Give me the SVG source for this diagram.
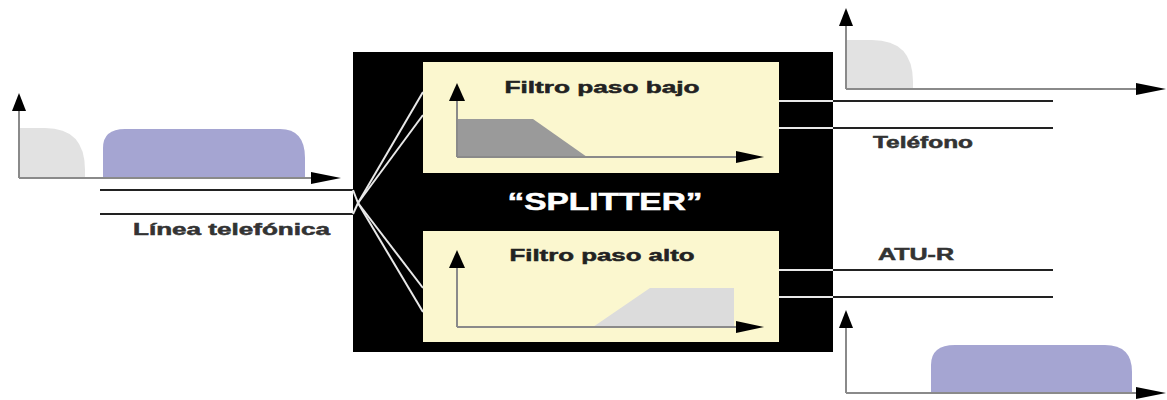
<svg xmlns="http://www.w3.org/2000/svg" width="1167" height="400" viewBox="0 0 1167 400">
<style>
.lbl{font-family:"Liberation Sans",Arial,sans-serif;font-weight:bold;fill:#333;stroke:#333;stroke-width:0.5}
.ttl{font-family:"Liberation Sans",Arial,sans-serif;font-weight:bold;fill:#222;stroke:#222;stroke-width:0.5}
.ax{stroke:#8a8a8a;stroke-width:2;fill:none}
.wire{stroke:#222;stroke-width:2}
.wwire{stroke:#e8e8e8;stroke-width:2}
.ah{fill:#000}
.panel{fill:#fbf7cf}
.purple{fill:#a5a5d2}
.lgray{fill:#e2e2e2}
</style>
<rect width="1167" height="400" fill="#fff"/>

<g id="splitter">
<rect x="353" y="52" width="480" height="300" fill="#000"/>
<text class="ttl" x="605" y="210" text-anchor="middle" font-size="23" style="fill:#fff;stroke:#fff" textLength="195" lengthAdjust="spacingAndGlyphs">“SPLITTER”</text>
</g>

<g id="lowpass">
<rect class="panel" x="423" y="62" width="356" height="111"/>
<text class="ttl" x="602" y="93" text-anchor="middle" font-size="17" textLength="195" lengthAdjust="spacingAndGlyphs">Filtro paso bajo</text>
<polygon points="457,119 533,119 587,157 457,157" fill="#9a9a9a"/>
<path class="ax" d="M457,157 V98 M457,157 H740"/>
<polygon class="ah" points="457,83 449,101 465,101"/>
<polygon class="ah" points="764,157 736,151 736,163"/>
</g>

<g id="highpass">
<rect class="panel" x="423" y="231" width="356" height="111"/>
<text class="ttl" x="602" y="261" text-anchor="middle" font-size="17" textLength="185" lengthAdjust="spacingAndGlyphs">Filtro paso alto</text>
<polygon points="593,327 650,288 734,288 734,327" fill="#dcdcdc"/>
<path class="ax" d="M457,327 V266 M457,327 H740"/>
<polygon class="ah" points="457,250 449,268 465,268"/>
<polygon class="ah" points="764,327 736,321 736,333"/>
</g>

<g id="input-spectrum">
<path class="lgray" d="M19,178 V128 H45 Q85,128 85,170 V178 Z"/>
<path class="purple" d="M103,178 V148 Q103,129 125,129 H280 Q305,129 305,158 V178 Z"/>
<path class="ax" d="M19,178 V108 M19,178 H315"/>
<polygon class="ah" points="19,93 12,111 26,111"/>
<polygon class="ah" points="341,178 311,172 311,184"/>
</g>

<g id="phone-spectrum">
<path class="lgray" d="M846,89 V40 H872 Q913,40 913,82 V89 Z"/>
<path class="ax" d="M846,89 V24 M846,89 H1140"/>
<polygon class="ah" points="846,8 839,26 853,26"/>
<polygon class="ah" points="1166,89 1136,83 1136,95"/>
</g>

<g id="atur-spectrum">
<path class="purple" d="M931,393 V365 Q931,345 955,345 H1105 Q1132,345 1132,372 V393 Z"/>
<path class="ax" d="M846,393 V326 M846,393 H1140"/>
<polygon class="ah" points="846,310 839,328 853,328"/>
<polygon class="ah" points="1166,393 1136,387 1136,399"/>
</g>

<g id="labels">
<text class="lbl" x="133" y="235" font-size="16" textLength="197" lengthAdjust="spacingAndGlyphs">Línea telefónica</text>
<text class="lbl" x="873" y="148" font-size="16" textLength="100" lengthAdjust="spacingAndGlyphs">Teléfono</text>
<text class="lbl" x="878" y="260" font-size="16" textLength="76" lengthAdjust="spacingAndGlyphs">ATU-R</text>
</g>

<g id="connectors">
<line class="wire" x1="100" y1="190" x2="353" y2="190"/>
<line class="wire" x1="100" y1="214" x2="353" y2="214"/>
<line class="wwire" x1="353" y1="190" x2="358" y2="203"/>
<line class="wwire" x1="353" y1="214" x2="358" y2="203"/>
<line class="wwire" x1="358" y1="203" x2="423" y2="92"/>
<line class="wwire" x1="358" y1="203" x2="423" y2="115"/>
<line class="wwire" x1="358" y1="203" x2="423" y2="288"/>
<line class="wwire" x1="358" y1="203" x2="423" y2="312"/>
<line class="wwire" x1="779" y1="101" x2="833" y2="101"/>
<line class="wwire" x1="779" y1="128" x2="833" y2="128"/>
<line class="wwire" x1="779" y1="270" x2="833" y2="270"/>
<line class="wwire" x1="779" y1="297" x2="833" y2="297"/>
<line class="wire" x1="833" y1="101" x2="1053" y2="101"/>
<line class="wire" x1="833" y1="128" x2="1053" y2="128"/>
<line class="wire" x1="833" y1="270" x2="1053" y2="270"/>
<line class="wire" x1="833" y1="297" x2="1053" y2="297"/>
</g>
</svg>
